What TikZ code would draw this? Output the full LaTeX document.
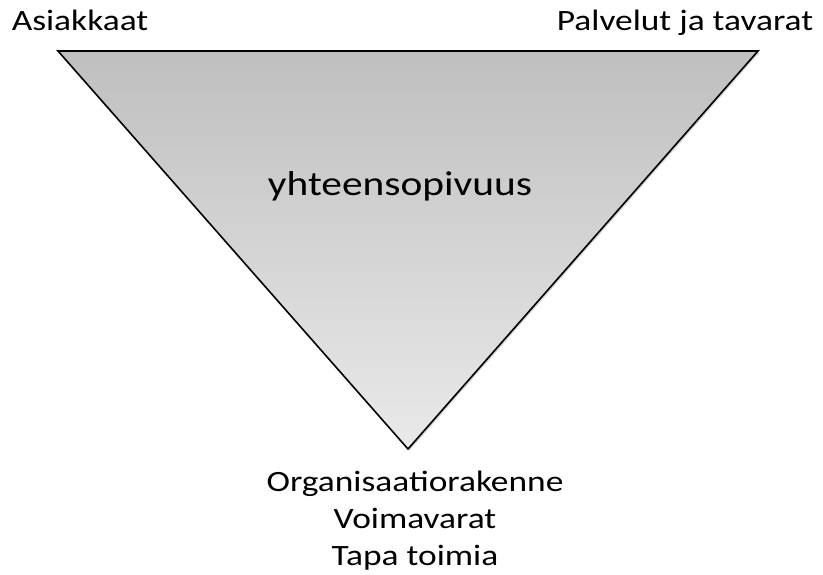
\documentclass[tikz,border=0pt]{standalone}
\usepackage{fontspec}
\setmainfont{Carlito}[FakeStretch=1.2]
\usetikzlibrary{shadows}

\begin{document}
\begin{tikzpicture}[x=1pt, y=-1pt, font=\fontsize{29.5}{36}\selectfont,
  label/.style={inner sep=0pt, anchor=base}]
  \useasboundingbox (0,0) rectangle (823,574);
  \coordinate (tl) at (58,51); \coordinate (tr) at (758,51); \coordinate (bt) at (408,449);
  \draw[line width=1.6pt, top color=gray!50, bottom color=gray!17,
        drop shadow={shadow xshift=1.5pt, shadow yshift=-1.5pt, opacity=0.35}]
    (tl)--(tr)--(bt)--cycle;
  \node[label] (asiakkaat) at (80,30) {Asiakkaat};
  \node[label] (palvelut) at (685,30) {Palvelut ja tavarat};
  \node[label, font=\fontsize{34.5}{40}\selectfont] (yht) at (400,195) {yhteensopivuus};
  % alareunan tekstit
  \node[label] (org) at (415,491) {Organisaatiorakenne};
  \node[label] (voima) at (415,528) {Voimavarat};
  \node[label] (tapa) at (415,565) {Tapa toimia};
\end{tikzpicture}
\end{document}
